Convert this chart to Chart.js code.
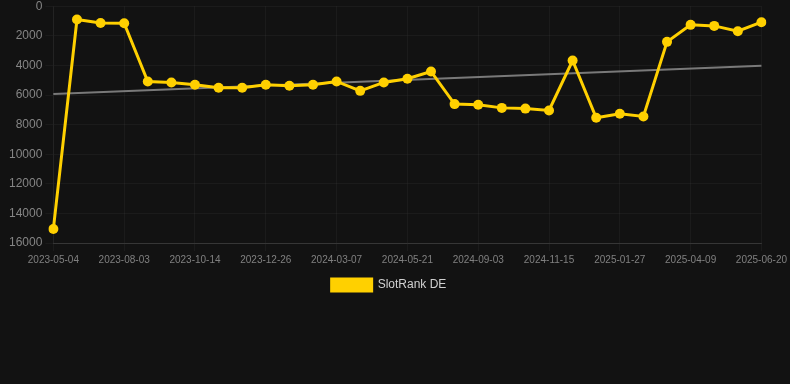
<!DOCTYPE html>
<html>
<head>
<meta charset="utf-8">
<script src="https://cdn.jsdelivr.net/npm/chart.js@4/dist/chart.umd.min.js"></script>
<style>
  html, body { margin: 0; padding: 0; background: #121212; overflow: hidden; }
  #wrap { width: 790px; height: 305px; position: relative; top: -4px; }
</style>
</head>
<body>
<div id="wrap"><canvas id="c"></canvas></div>
<script>
const dates = [
  "2023-05-04","2023-06-03","2023-07-04","2023-08-03","2023-08-27","2023-09-20",
  "2023-10-14","2023-11-07","2023-12-01","2023-12-26","2024-01-19","2024-02-12",
  "2024-03-07","2024-04-01","2024-04-26","2024-05-21","2024-06-25","2024-07-30",
  "2024-09-03","2024-09-27","2024-10-21","2024-11-15","2024-12-09","2025-01-02",
  "2025-01-27","2025-02-20","2025-03-16","2025-04-09","2025-05-03","2025-05-27",
  "2025-06-20"
];
const slotRankDE = [
  15050, 900, 1130, 1150, 5085, 5150, 5310, 5515, 5515, 5310,
  5380, 5310, 5085, 5720, 5150, 4905, 4410, 6615, 6660, 6870,
  6920, 7045, 3670, 7540, 7270, 7450, 2410, 1260, 1330, 1690,
  1080
];
const trendStart = 5940;
const trendEnd = 4030;
const trend = dates.map((d, i) => i === 0 ? trendStart : (i === dates.length - 1 ? trendEnd : null));

const FONT = "'Liberation Sans', Arial, Helvetica, sans-serif";

new Chart(document.getElementById('c'), {
  type: 'line',
  data: {
    labels: dates,
    datasets: [
      {
        label: 'SlotRank DE',
        data: slotRankDE,
        borderColor: '#FFD000',
        backgroundColor: '#FFD000',
        borderWidth: 3,
        pointRadius: 5,
        pointHoverRadius: 5,
        pointBackgroundColor: '#FFD000',
        pointBorderColor: '#FFD000',
        pointBorderWidth: 0,
        tension: 0,
        fill: false,
        order: 1
      },
      {
        label: 'trend',
        data: trend,
        borderColor: 'rgba(140,140,140,0.85)',
        borderWidth: 2,
        pointRadius: 0,
        spanGaps: true,
        fill: false,
        order: 2
      }
    ]
  },
  options: {
    responsive: true,
    maintainAspectRatio: false,
    animation: false,
    layout: { padding: { left: 6, right: 18, top: 0, bottom: 0 } },
    plugins: {
      legend: {
        position: 'bottom',
        labels: {
          color: '#d0d0d0',
          font: { family: FONT, size: 12 },
          boxWidth: 40,
          boxHeight: 12,
          filter: (item) => item.text === 'SlotRank DE'
        }
      },
      tooltip: { enabled: false }
    },
    scales: {
      x: {
        grid: { color: 'rgba(255,255,255,0.04)', drawTicks: true, tickLength: 8 },
        border: { color: 'rgba(255,255,255,0.12)' },
        ticks: {
          color: '#808080',
          font: { family: FONT, size: 10 },
          padding: 3,
          maxRotation: 0,
          minRotation: 0,
          autoSkip: true
        }
      },
      y: {
        reverse: true,
        min: 0,
        max: 16000,
        grid: { color: 'rgba(255,255,255,0.04)' },
        border: { color: 'rgba(255,255,255,0.04)' },
        ticks: {
          stepSize: 2000,
          color: '#858585',
          font: { family: FONT, size: 12 },
          callback: (v) => String(v)
        }
      }
    }
  }
});
</script>
</body>
</html>
